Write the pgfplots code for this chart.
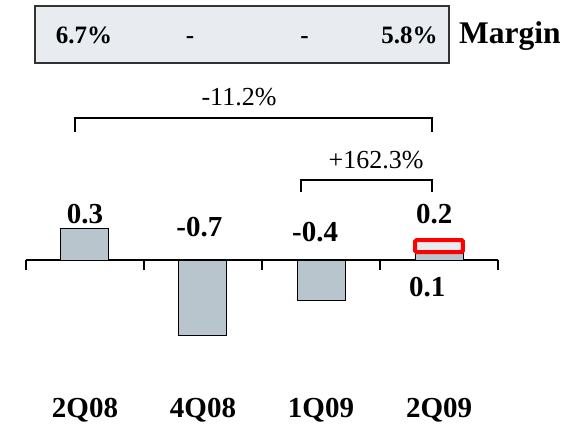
\documentclass[border=0pt]{standalone}
\usepackage{pgfplots}
\pgfplotsset{compat=1.18}
\usepackage{fontspec}
\setmainfont{Liberation Serif}
\definecolor{barfill}{RGB}{184,197,204}
\definecolor{boxfill}{RGB}{232,235,240}
\begin{document}
\begin{tikzpicture}
\begin{axis}[
  scale only axis,
  width=472pt, height=424pt,
  xmin=-0.5, xmax=3.5,
  ymin=-1.562, ymax=2.476,
  axis x line=middle,
  axis y line=none,
  x axis line style={-, black, line width=1.2pt},
  xtick={-0.5,0.5,1.5,2.5,3.5},
  xticklabels={},
  tick align=outside,
  major tick length=10pt,
  tick style={black, line width=1.2pt},
  clip=false,
  ybar, bar width=48pt,
]
\addplot[fill=barfill, draw=black, line width=1pt, bar shift=0pt]
  coordinates {(0,0.3) (1,-0.72) (2,-0.39) (3,0.075)};
% increment box on 2Q09
\addplot[draw=red, line width=4pt, fill=boxfill, rounded corners=1.5pt, sharp plot, mark=none]
  coordinates {(2.797,0.076) (3.203,0.076) (3.203,0.19) (2.797,0.19)} -- cycle;

\path (axis cs:-0.72,-1.562) rectangle (axis cs:4.186,2.476);

% bar values
\tikzset{val/.style={font=\fontsize{29}{31}\selectfont\bfseries}}
\node[val] at (axis cs:0,0.44) {0.3};
\node[val] at (axis cs:0.97,0.31) {-0.7};
\node[val] at (axis cs:1.95,0.265) {-0.4};
\node[val] at (axis cs:2.96,0.44) {0.2};
\node[val] at (axis cs:2.9,-0.26) {0.1};

% brackets
\tikzset{chg/.style={font=\fontsize{26}{28}\selectfont, anchor=base}}
\draw[line width=1.2pt] (axis cs:-0.085,1.219) -- (axis cs:-0.085,1.352) -- (axis cs:2.94,1.352) -- (axis cs:2.94,1.219);
\node[chg] at (axis cs:1.305,1.476) {-11.2\%};
\draw[line width=1.2pt] (axis cs:1.83,0.648) -- (axis cs:1.83,0.762) -- (axis cs:2.94,0.762) -- (axis cs:2.94,0.648);
\node[chg] at (axis cs:2.466,0.876) {+162.3\%};

% margin box
\draw[fill=boxfill, draw=black!80, line width=1.2pt] (axis cs:-0.424,1.876) rectangle (axis cs:3.085,2.419);
\tikzset{mrg/.style={font=\fontsize{25}{27}\selectfont\bfseries, anchor=base}}
\node[mrg] at (axis cs:-0.008,2.057) {6.7\%};
\node[mrg] at (axis cs:0.89,2.057) {-};
\node[mrg] at (axis cs:1.86,2.057) {-};
\node[mrg] at (axis cs:2.75,2.057) {5.8\%};
\node[mrg, font=\fontsize{31.5}{33}\selectfont\bfseries] at (axis cs:3.6,2.057) {Margin};

% category labels
\tikzset{cat/.style={font=\fontsize{29}{31}\selectfont\bfseries}}
\node[cat] at (axis cs:0,-1.43) {2Q08};
\node[cat] at (axis cs:1,-1.43) {4Q08};
\node[cat] at (axis cs:2,-1.43) {1Q09};
\node[cat] at (axis cs:3,-1.43) {2Q09};
\end{axis}
\end{tikzpicture}
\end{document}
